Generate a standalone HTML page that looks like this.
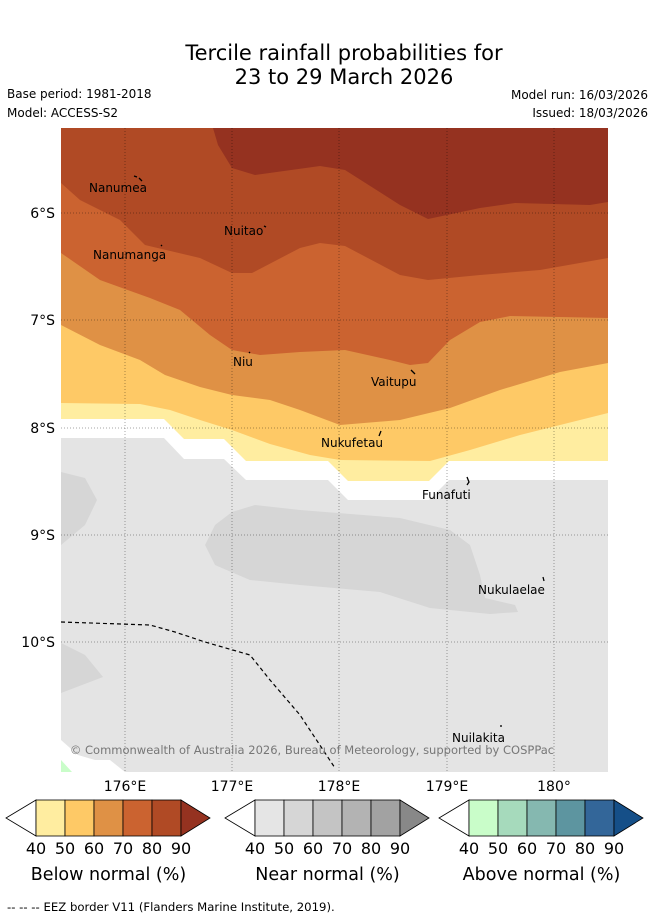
<!DOCTYPE html>
<html><head><meta charset="utf-8">
<style>
body{margin:0;background:#fff;font-family:"Liberation Sans","DejaVu Sans",sans-serif;}
svg text{font-family:"DejaVu Sans","Liberation Sans",sans-serif;}
</style></head>
<body>
<svg width="655" height="919" viewBox="0 0 655 919" xmlns="http://www.w3.org/2000/svg">
<rect width="655" height="919" fill="#fff"/>
<text x="344" y="60" font-size="21" text-anchor="middle">Tercile rainfall probabilities for</text>
<text x="344" y="84" font-size="21" text-anchor="middle">23 to 29 March 2026</text>
<text x="7" y="98" font-size="12">Base period: 1981-2018</text>
<text x="7" y="117" font-size="12">Model: ACCESS-S2</text>
<text x="648" y="99" font-size="12" text-anchor="end">Model run: 16/03/2026</text>
<text x="648" y="117" font-size="12" text-anchor="end">Issued: 18/03/2026</text>

<defs><clipPath id="mc"><rect x="61" y="128" width="547" height="644"/></clipPath></defs>
<g clip-path="url(#mc)">
<rect x="61" y="128" width="547" height="644" fill="#e4e4e4"/>
<polygon fill="#d6d6d6" points="61,472 85,478 97,500 85,525 61,545"/>
<polygon fill="#d6d6d6" points="205,545 215,525 232,512 255,505 300,510 400,518 450,530 470,545 480,575 485,598 515,605 518,612 490,614 430,608 380,592 300,585 250,580 215,565"/>
<polygon fill="#d6d6d6" points="61,643 85,655 103,677 61,693"/>
<polygon fill="#ffffff" points="61,740 78,755 95,760 110,760 125,772 61,772"/>
<polygon fill="#c9fdc9" points="61,760 72,772 61,772"/>
<polygon fill="#ffffff" points="61,128 608,128 608,480 449,480 429,500 348,500 328,480 246,480 224,459 184,459 164,438 61,438"/>
<polygon fill="#ffeda0" points="61,128 608,128 608,461 449,461 429,481 348,481 328,461 246,461 224,439 184,439 164,419 61,419"/>
<polygon fill="#fec966" points="61,128 608,128 608,413 520,435 470,450 430,461 340,460 310,455 270,444 232,430 200,420 170,410 140,404 61,403"/>
<polygon fill="#df9145" points="61,128 608,128 608,363 560,372 500,390 450,408 400,420 340,425 300,410 270,400 232,395 200,387 165,375 140,360 100,345 61,325"/>
<polygon fill="#cb6330" points="61,128 608,128 608,318 510,316 480,322 450,340 428,363 410,365 390,360 345,350 300,352 260,355 232,350 210,335 180,310 150,298 100,280 61,253"/>
<polygon fill="#b04a25" points="61,128 608,128 608,258 540,270 480,275 428,280 400,275 345,246 320,243 300,248 252,273 232,273 200,258 145,245 120,220 80,200 61,183"/>
<polygon fill="#953220" points="213,128 608,128 608,202 590,205 515,203 480,208 428,219 400,205 345,170 320,166 255,175 232,168 218,145"/>
<g stroke="#000" stroke-opacity="0.35" stroke-width="1" stroke-dasharray="1,2">
<line x1="125" y1="128" x2="125" y2="772"/><line x1="232" y1="128" x2="232" y2="772"/><line x1="339" y1="128" x2="339" y2="772"/><line x1="447" y1="128" x2="447" y2="772"/><line x1="554" y1="128" x2="554" y2="772"/>
<line x1="61" y1="213" x2="608" y2="213"/><line x1="61" y1="320" x2="608" y2="320"/><line x1="61" y1="428" x2="608" y2="428"/><line x1="61" y1="535" x2="608" y2="535"/><line x1="61" y1="642" x2="608" y2="642"/>
</g>
<polyline fill="none" stroke="#000" stroke-width="1.2" stroke-dasharray="4,3" points="61,622 150,625 175,632 205,642 250,655 270,680 300,715 335,768"/>
<g font-size="12" fill="#000">
<text x="89" y="192">Nanumea</text>
<text x="224" y="235">Nuitao</text>
<text x="93" y="259">Nanumanga</text>
<text x="233" y="366">Niu</text>
<text x="371" y="386">Vaitupu</text>
<text x="321" y="447">Nukufetau</text>
<text x="422" y="499">Funafuti</text>
<text x="478" y="594">Nukulaelae</text>
<text x="452" y="742">Nuilakita</text>
</g>
<g stroke="#000" stroke-width="1.3" fill="none">
<path d="M134,176 l3,1 M139,178 l3,3"/><path d="M264,226 l2,1"/><path d="M161,246 l1,-1"/><path d="M249,352 l1,1"/><path d="M411,370 l4,4"/><path d="M381,431 l-2,5"/><path d="M467,477 l2,5 l-2,3"/><path d="M543,577 l1,4"/><path d="M500,726 l2,0"/>
</g>
<text x="312" y="754" font-size="11.5" fill="#777" text-anchor="middle">© Commonwealth of Australia 2026, Bureau of Meteorology, supported by COSPPac</text>
</g>
<g font-size="14" fill="#000">
<text x="55" y="218" text-anchor="end">6°S</text><text x="55" y="325" text-anchor="end">7°S</text><text x="55" y="433" text-anchor="end">8°S</text><text x="55" y="540" text-anchor="end">9°S</text><text x="55" y="647" text-anchor="end">10°S</text>
</g>
<g font-size="14" fill="#000" text-anchor="middle">
<text x="125" y="791">176°E</text><text x="232" y="791">177°E</text><text x="339" y="791">178°E</text><text x="447" y="791">179°E</text><text x="554" y="791">180°</text>
</g>
<g id="bars"></g>
<text x="7" y="911" font-size="11.7">--  --  -- EEZ border V11 (Flanders Marine Institute, 2019).</text>
</svg>
<script>
const ticks = ["40","50","60","70","80","90"];
const belowColors = ["#ffeda0","#fec966","#df9145","#cb6330","#b04a25","#953220"];
const nearColors = ["#e5e5e5","#d6d6d6","#c4c4c4","#b3b3b3","#a2a2a2","#888888"];
const aboveColors = ["#c9fdc9","#a6dabc","#85b8b0","#5d95a0","#336699","#154f88"];
const titles = ["Below normal (%)","Near normal (%)","Above normal (%)"];
const starts = [6,225,439];
const NS="http://www.w3.org/2000/svg";
const g=document.getElementById('bars');
[belowColors,nearColors,aboveColors].forEach((cols,bi)=>{
  const x0=starts[bi], y0=800, h=36, bw=29, tw=30, bx=x0+tw;
  const grp=document.createElementNS(NS,'g');
  
  
  const lt=document.createElementNS(NS,'polygon');
  lt.setAttribute('points',`${x0},${y0+h/2} ${bx},${y0} ${bx},${y0+h}`);
  lt.setAttribute('fill','#fff');lt.setAttribute('stroke','#000');lt.setAttribute('stroke-width','0.8');
  
  
  grp.appendChild(lt);
  for(let i=0;i<5;i++){
    const r=document.createElementNS(NS,'rect');
    r.setAttribute('x',bx+i*bw);r.setAttribute('y',y0);r.setAttribute('width',bw);r.setAttribute('height',h);
    r.setAttribute('fill',cols[i]);r.setAttribute('stroke','#000');r.setAttribute('stroke-width','0.8');
    
    
    grp.appendChild(r);
  }
  const ex=bx+5*bw;
  const rt=document.createElementNS(NS,'polygon');
  rt.setAttribute('points',`${ex},${y0} ${ex+tw-1},${y0+h/2} ${ex},${y0+h}`);
  rt.setAttribute('fill',cols[5]);rt.setAttribute('stroke','#000');rt.setAttribute('stroke-width','0.8');
  
  
  grp.appendChild(rt);
  ticks.forEach((t,i)=>{
    const tx=document.createElementNS(NS,'text');
    tx.setAttribute('x',bx+i*bw);tx.setAttribute('y',854);tx.setAttribute('font-size','16');tx.setAttribute('text-anchor','middle');
    tx.textContent=t;
    
    
    grp.appendChild(tx);
  });
  const tt=document.createElementNS(NS,'text');
  tt.setAttribute('x',bx+2.5*bw);tt.setAttribute('y',880);tt.setAttribute('font-size','17.5');tt.setAttribute('text-anchor','middle');
  tt.textContent=titles[bi];
  
  
  grp.appendChild(tt);
  g.appendChild(grp);
});
</script>
</body></html>
